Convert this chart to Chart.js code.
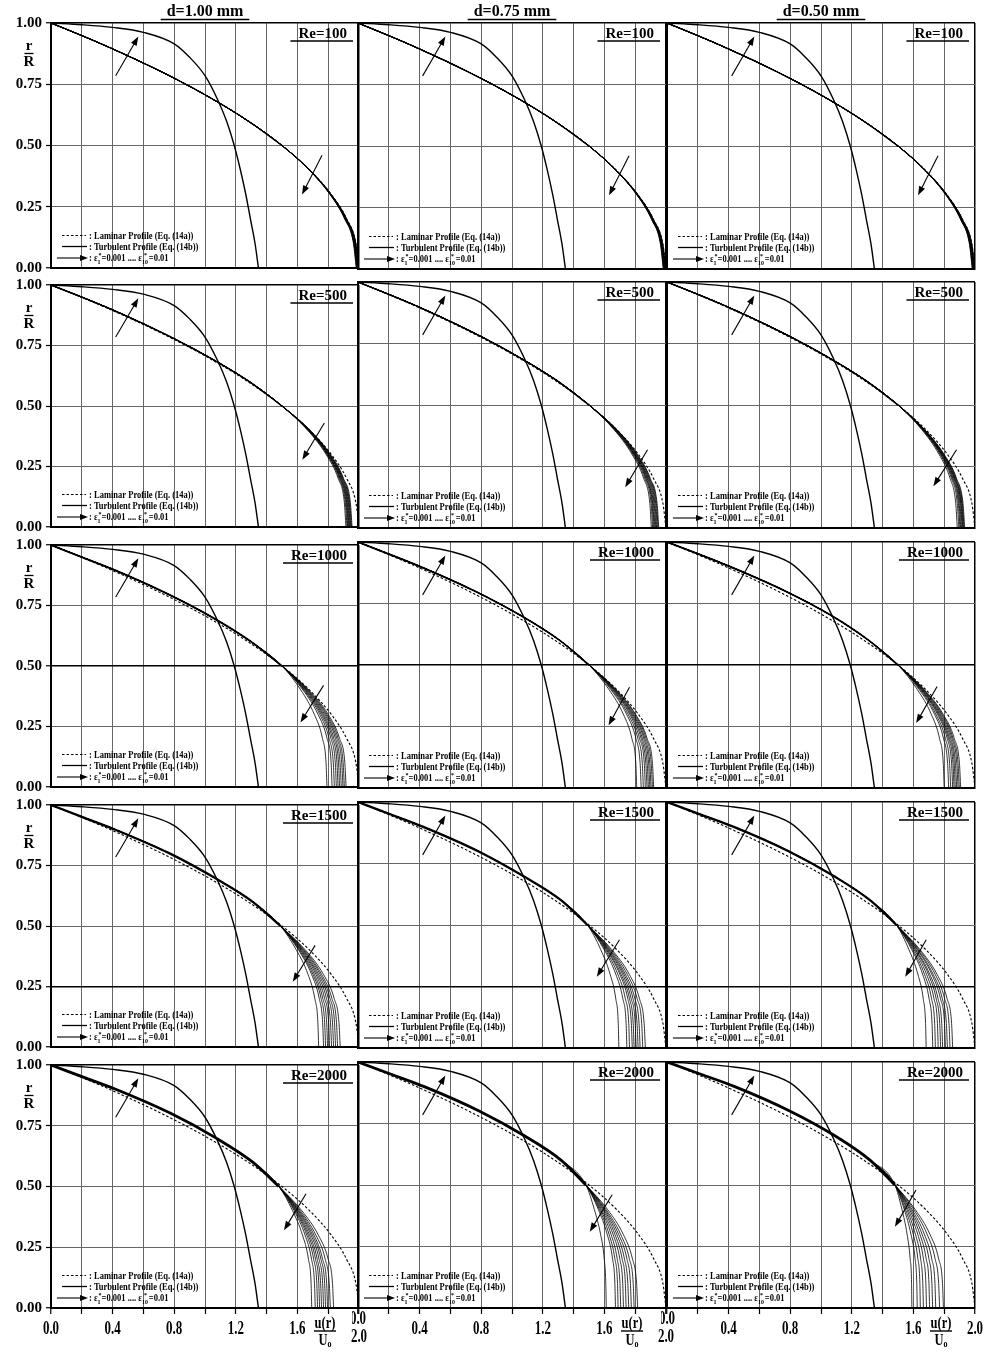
<!DOCTYPE html>
<html>
<head>
<meta charset="utf-8">
<title>Velocity profiles</title>
<script src="https://cdn.jsdelivr.net/npm/chart.js@4.4.1/dist/chart.umd.min.js"></script>
<style>
  html, body { margin: 0; padding: 0; background: #fff; }
  #wrap { position: relative; width: 994px; height: 1352px; overflow: hidden; }
  #wrap canvas { position: absolute; }
</style>
</head>
<body>
<div id="wrap"></div>
<script>
// ------------------------
// Data
// ------------------------
const diameters = ['d=1.00 mm', 'd=0.75 mm', 'd=0.50 mm'];
const reynolds = [100, 500, 1000, 1500, 2000];
const xLabelTicks = [0, 0.4, 0.8, 1.2, 1.6, 2.0];

// r/R stations used for the laminar profile and the roughness family
const rUpper = [1, 0.95, 0.9, 0.8, 0.7, 0.6, 0.5];
const rLower = [0.4, 0.3, 0.2, 0.1, 0];
const rGrid = rUpper.concat(rLower);

// laminar profile (Eq. 14a), u/Uo at rGrid
const laminarX = [0, 0.195, 0.38, 0.72, 1.02, 1.28, 1.5, 1.68, 1.82, 1.92, 1.98, 2.0];

// turbulent profile (Eq. 14b)
const turbR = [1, 0.993, 0.982, 0.962, 0.915, 0.86, 0.785, 0.69, 0.6, 0.5, 0.4, 0.3, 0.2, 0.1, 0];
const turbX = [0, 0.2, 0.4, 0.6, 0.8, 0.9, 1.0, 1.08, 1.14, 1.19, 1.23, 1.265, 1.295, 1.325, 1.347];

// upper part of the eps family (shared by the 10 curves), u/Uo at rUpper
const band100 = [0, 0.195, 0.38, 0.72, 1.02, 1.28, 1.5];
const band500 = [0, 0.2, 0.39, 0.73, 1.03, 1.29, 1.5];
const band1000a = [0, 0.2, 0.40, 0.75, 1.05, 1.30, 1.50];
const band1000b = [0, 0.205, 0.405, 0.76, 1.06, 1.31, 1.50];
const band1000c = [0, 0.21, 0.41, 0.77, 1.07, 1.31, 1.50];
const band1500a = [0, 0.205, 0.41, 0.77, 1.06, 1.31, 1.49];
const band1500b = [0, 0.21, 0.42, 0.78, 1.07, 1.32, 1.49];
const band1500c = [0, 0.215, 0.43, 0.79, 1.08, 1.32, 1.49];
const band2000a = [0, 0.21, 0.42, 0.78, 1.07, 1.31, 1.48];
const band2000b = [0, 0.215, 0.43, 0.79, 1.08, 1.32, 1.48];
const band2000c = [0, 0.22, 0.44, 0.80, 1.09, 1.32, 1.48];

// lower part of the eps1..eps10 curves, u/Uo at rLower
const fam100 = [
  [1.676, 1.812, 1.907, 1.964, 1.982], [1.677, 1.813, 1.909, 1.966, 1.984],
  [1.677, 1.814, 1.910, 1.967, 1.986], [1.678, 1.815, 1.912, 1.969, 1.988],
  [1.678, 1.816, 1.913, 1.971, 1.990], [1.678, 1.816, 1.914, 1.973, 1.992],
  [1.679, 1.817, 1.916, 1.975, 1.994], [1.679, 1.818, 1.917, 1.976, 1.996],
  [1.680, 1.819, 1.919, 1.978, 1.998], [1.680, 1.820, 1.920, 1.980, 2.000]
];
const fam500a = [
  [1.666, 1.786, 1.865, 1.905, 1.915], [1.669, 1.791, 1.871, 1.911, 1.922],
  [1.671, 1.795, 1.876, 1.916, 1.927], [1.672, 1.797, 1.879, 1.920, 1.931],
  [1.674, 1.800, 1.883, 1.924, 1.935], [1.676, 1.803, 1.886, 1.928, 1.939],
  [1.677, 1.806, 1.890, 1.932, 1.943], [1.679, 1.808, 1.893, 1.936, 1.947],
  [1.680, 1.811, 1.897, 1.940, 1.951], [1.682, 1.814, 1.900, 1.944, 1.955]
];
const fam500b = [
  [1.662, 1.779, 1.856, 1.895, 1.905], [1.665, 1.785, 1.863, 1.903, 1.913],
  [1.668, 1.789, 1.869, 1.909, 1.919], [1.670, 1.793, 1.873, 1.913, 1.924],
  [1.672, 1.796, 1.878, 1.918, 1.929], [1.674, 1.799, 1.882, 1.923, 1.934],
  [1.676, 1.803, 1.886, 1.928, 1.939], [1.678, 1.806, 1.891, 1.933, 1.944],
  [1.680, 1.810, 1.895, 1.938, 1.949], [1.681, 1.813, 1.899, 1.942, 1.953]
];
const fam500c = [
  [1.654, 1.766, 1.839, 1.875, 1.885], [1.658, 1.773, 1.848, 1.885, 1.895],
  [1.661, 1.777, 1.854, 1.892, 1.902], [1.663, 1.781, 1.858, 1.897, 1.907],
  [1.665, 1.784, 1.863, 1.902, 1.912], [1.667, 1.788, 1.867, 1.907, 1.917],
  [1.668, 1.790, 1.870, 1.910, 1.921], [1.670, 1.793, 1.874, 1.914, 1.925],
  [1.672, 1.796, 1.878, 1.918, 1.929], [1.673, 1.799, 1.881, 1.922, 1.933]
];
const fam1000a = [
  [1.623, 1.710, 1.763, 1.786, 1.792], [1.637, 1.734, 1.793, 1.819, 1.825],
  [1.643, 1.745, 1.806, 1.833, 1.840], [1.648, 1.754, 1.818, 1.846, 1.853],
  [1.653, 1.762, 1.828, 1.857, 1.864], [1.657, 1.769, 1.837, 1.867, 1.874],
  [1.662, 1.777, 1.847, 1.877, 1.885], [1.666, 1.785, 1.856, 1.888, 1.896],
  [1.670, 1.792, 1.865, 1.897, 1.905], [1.675, 1.800, 1.874, 1.908, 1.916]
];
const fam1000b = [
  [1.630, 1.723, 1.779, 1.804, 1.810], [1.642, 1.744, 1.805, 1.832, 1.839],
  [1.648, 1.754, 1.818, 1.846, 1.853], [1.654, 1.764, 1.829, 1.859, 1.866],
  [1.658, 1.771, 1.839, 1.869, 1.877], [1.662, 1.778, 1.847, 1.878, 1.886],
  [1.666, 1.784, 1.856, 1.887, 1.895], [1.669, 1.790, 1.863, 1.895, 1.903],
  [1.673, 1.797, 1.871, 1.904, 1.912], [1.676, 1.802, 1.878, 1.912, 1.920]
];
const fam1000c = [
  [1.626, 1.716, 1.770, 1.794, 1.800], [1.638, 1.737, 1.796, 1.822, 1.829],
  [1.644, 1.746, 1.808, 1.835, 1.842], [1.649, 1.756, 1.820, 1.848, 1.855],
  [1.653, 1.762, 1.828, 1.857, 1.864], [1.656, 1.768, 1.835, 1.865, 1.872],
  [1.660, 1.774, 1.843, 1.873, 1.881], [1.664, 1.781, 1.851, 1.882, 1.890],
  [1.667, 1.787, 1.858, 1.890, 1.898], [1.671, 1.793, 1.866, 1.899, 1.907]
];
const fam1500a = [
  [1.594, 1.669, 1.713, 1.733, 1.738], [1.608, 1.692, 1.742, 1.764, 1.770],
  [1.613, 1.701, 1.754, 1.777, 1.783], [1.619, 1.710, 1.765, 1.790, 1.796],
  [1.624, 1.720, 1.777, 1.803, 1.809], [1.629, 1.729, 1.789, 1.815, 1.822],
  [1.635, 1.738, 1.801, 1.828, 1.835], [1.640, 1.748, 1.812, 1.841, 1.848],
  [1.646, 1.757, 1.824, 1.854, 1.861], [1.653, 1.769, 1.839, 1.870, 1.878]
];
const fam1500b = [
  [1.576, 1.637, 1.674, 1.690, 1.694], [1.598, 1.674, 1.720, 1.741, 1.746],
  [1.605, 1.687, 1.736, 1.758, 1.763], [1.612, 1.700, 1.752, 1.775, 1.781],
  [1.617, 1.708, 1.763, 1.787, 1.793], [1.623, 1.718, 1.774, 1.800, 1.806],
  [1.628, 1.727, 1.786, 1.812, 1.819], [1.634, 1.736, 1.798, 1.825, 1.832],
  [1.641, 1.748, 1.813, 1.842, 1.849], [1.648, 1.761, 1.828, 1.858, 1.866]
];
const fam1500c = [
  [1.571, 1.629, 1.664, 1.679, 1.683], [1.589, 1.660, 1.702, 1.721, 1.726],
  [1.596, 1.672, 1.718, 1.738, 1.743], [1.604, 1.685, 1.734, 1.756, 1.761],
  [1.611, 1.697, 1.748, 1.771, 1.777], [1.616, 1.706, 1.760, 1.784, 1.790],
  [1.624, 1.719, 1.776, 1.802, 1.808], [1.629, 1.728, 1.788, 1.814, 1.821],
  [1.636, 1.741, 1.803, 1.831, 1.838], [1.643, 1.753, 1.819, 1.848, 1.855]
];
const fam2000a = [
  [1.569, 1.633, 1.672, 1.689, 1.693], [1.579, 1.650, 1.692, 1.711, 1.716],
  [1.585, 1.661, 1.706, 1.726, 1.731], [1.591, 1.670, 1.718, 1.739, 1.744],
  [1.596, 1.679, 1.729, 1.751, 1.757], [1.602, 1.689, 1.741, 1.764, 1.770],
  [1.607, 1.698, 1.753, 1.777, 1.783], [1.613, 1.708, 1.764, 1.790, 1.796],
  [1.620, 1.720, 1.781, 1.807, 1.814], [1.629, 1.736, 1.800, 1.828, 1.835]
];
const fam2000b = [
  [1.535, 1.575, 1.599, 1.609, 1.612], [1.561, 1.618, 1.653, 1.668, 1.672],
  [1.568, 1.630, 1.668, 1.685, 1.689], [1.575, 1.643, 1.683, 1.701, 1.706],
  [1.582, 1.656, 1.700, 1.719, 1.724], [1.590, 1.668, 1.715, 1.736, 1.741],
  [1.597, 1.680, 1.730, 1.752, 1.758], [1.604, 1.692, 1.746, 1.769, 1.775],
  [1.611, 1.705, 1.762, 1.787, 1.793], [1.621, 1.722, 1.782, 1.809, 1.816]
];
const fam2000c = [
  [1.526, 1.559, 1.579, 1.588, 1.590], [1.541, 1.584, 1.611, 1.622, 1.625],
  [1.549, 1.599, 1.629, 1.642, 1.645], [1.558, 1.613, 1.647, 1.661, 1.665],
  [1.566, 1.628, 1.665, 1.681, 1.685], [1.575, 1.642, 1.683, 1.701, 1.705],
  [1.583, 1.656, 1.701, 1.720, 1.725], [1.591, 1.671, 1.719, 1.740, 1.745],
  [1.602, 1.689, 1.741, 1.764, 1.770], [1.612, 1.707, 1.764, 1.789, 1.795]
];

// arrows: [tail, head] in (u/Uo, r/R)
const arrowUp = [[0.42, 0.785], [0.567, 0.945]];
const arrowDown100 = [[[1.76, 0.46], [1.63, 0.30]], [[1.76, 0.46], [1.63, 0.30]], [[1.76, 0.46], [1.63, 0.30]]];
const arrowDown500 = [[[1.775, 0.43], [1.632, 0.278]], [[1.88, 0.318], [1.735, 0.166]], [[1.88, 0.318], [1.73, 0.17]]];
const arrowDown1000 = [[[1.77, 0.42], [1.62, 0.267]], [[1.763, 0.41], [1.627, 0.255]], [[1.754, 0.413], [1.618, 0.264]]];
const arrowDown1500 = [[[1.715, 0.42], [1.57, 0.27]], [[1.698, 0.44], [1.551, 0.29]], [[1.683, 0.44], [1.547, 0.29]]];
const arrowDown2000 = [[[1.656, 0.47], [1.513, 0.32]], [[1.65, 0.46], [1.505, 0.31]], [[1.617, 0.48], [1.48, 0.33]]];

// ------------------------
// Panel lookup tables
// ------------------------
const bands = [
  [band100, band100, band100], [band500, band500, band500],
  [band1000a, band1000b, band1000c], [band1500a, band1500b, band1500c],
  [band2000a, band2000b, band2000c]
];
const families = [
  [fam100, fam100, fam100], [fam500a, fam500b, fam500c],
  [fam1000a, fam1000b, fam1000c], [fam1500a, fam1500b, fam1500c],
  [fam2000a, fam2000b, fam2000c]
];
const arrowsDown = [arrowDown100, arrowDown500, arrowDown1000, arrowDown1500, arrowDown2000];

// ------------------------
// Layout / styles
// ------------------------
const panelW = 308, panelH = 246;
const colLeft = [51, 358, 667];
const rowTop = [23, 282, 542, 802, 1062];
const bandWidth = [1.2, 1.4, 1.8, 2.3, 2.8];
const SERIF = '"Liberation Serif", "Times New Roman", serif';
const GRID = '#666';

function pts(xs, rs) {
    return xs.map((x, i) => ({ x: x, y: rs[i] }));
}

// text drawn with an optional horizontal squeeze, returns its width
function txt(ctx, s, x, y, size, sx, align) {
    ctx.font = 'bold ' + size + 'px ' + SERIF;
    const w = ctx.measureText(s).width * sx;
    let x0 = x;
    if (align === 'center') x0 = x - w / 2;
    else if (align === 'right') x0 = x - w;
    ctx.save();
    ctx.translate(x0, y);
    ctx.scale(sx, 1);
    ctx.textAlign = 'left';
    ctx.textBaseline = 'alphabetic';
    ctx.fillText(s, 0, 0);
    ctx.restore();
    return w;
}

function seg(ctx, x1, y1, x2, y2) {
    ctx.beginPath();
    ctx.moveTo(x1, y1);
    ctx.lineTo(x2, y2);
    ctx.stroke();
}

function arrow(ctx, x1, y1, x2, y2, head) {
    const a = Math.atan2(y2 - y1, x2 - x1);
    const c = Math.cos(a), s = Math.sin(a);
    seg(ctx, x1, y1, x2 - c * head * 0.6, y2 - s * head * 0.6);
    ctx.beginPath();
    ctx.moveTo(x2, y2);
    ctx.lineTo(x2 - head * c + head * 0.36 * s, y2 - head * s - head * 0.36 * c);
    ctx.lineTo(x2 - head * c - head * 0.36 * s, y2 - head * s + head * 0.36 * c);
    ctx.closePath();
    ctx.fill();
}

function drawLegend(ctx, area) {
    const L = area.left, B = area.bottom;
    ctx.strokeStyle = '#000';
    ctx.fillStyle = '#000';
    ctx.lineWidth = 1;
    ctx.setLineDash([2.5, 2]);
    seg(ctx, L + 11, B - 32.5, L + 35, B - 32.5);
    ctx.setLineDash([]);
    txt(ctx, ': Laminar Profile (Eq. (14a))', L + 38, B - 29.5, 10, 0.85);
    ctx.lineWidth = 1.3;
    seg(ctx, L + 11, B - 21.5, L + 36, B - 21.5);
    txt(ctx, ': Turbulent Profile (Eq. (14b))', L + 38, B - 18.5, 10, 0.85);
    ctx.lineWidth = 1.1;
    arrow(ctx, L + 6, B - 10, L + 37, B - 10, 8);
    let x = L + 38;
    const y = B - 7;
    x += txt(ctx, ': \u03b5', x, y, 10, 0.85);
    x += Math.max(txt(ctx, '1', x, y + 2.5, 7, 0.85), txt(ctx, '*', x + 1, y - 4, 7, 0.85));
    x += txt(ctx, '=0.001 .... \u03b5', x + 1, y, 10, 0.85) + 1;
    x += Math.max(txt(ctx, '10', x, y + 2.5, 7, 0.85), txt(ctx, '*', x + 2, y - 4, 7, 0.85));
    txt(ctx, '=0.01', x + 1, y, 10, 0.85);
}

// ------------------------
// Per-panel decorations
// ------------------------
function decorPlugin(row, col) {
    return {
        id: 'decor',
        afterDatasetsDraw(chart) {
            const ctx = chart.ctx, xs = chart.scales.x, ys = chart.scales.y;
            ctx.save();
            ctx.strokeStyle = '#000';
            ctx.fillStyle = '#000';
            ctx.lineWidth = 1.1;
            const up = arrowUp;
            arrow(ctx, xs.getPixelForValue(up[0][0]), ys.getPixelForValue(up[0][1]),
                xs.getPixelForValue(up[1][0]), ys.getPixelForValue(up[1][1]), 9);
            const dn = arrowsDown[row][col];
            arrow(ctx, xs.getPixelForValue(dn[0][0]), ys.getPixelForValue(dn[0][1]),
                xs.getPixelForValue(dn[1][0]), ys.getPixelForValue(dn[1][1]), 9);
            ctx.restore();
        },
        afterDraw(chart) {
            const ctx = chart.ctx, area = chart.chartArea, xs = chart.scales.x;
            ctx.save();
            ctx.fillStyle = '#000';
            ctx.strokeStyle = '#000';

            // Re label, underlined
            const label = 'Re=' + reynolds[row];
            const xr = area.right - 12;
            const w = txt(ctx, label, xr, area.top + 15, 15, 1, 'right');
            ctx.lineWidth = 1.5;
            seg(ctx, xr - w - 8, area.top + 18, xr + 6, area.top + 18);

            // column title
            if (row === 0) {
                const cx = (area.left + area.right) / 2;
                const tw = txt(ctx, diameters[col], cx, area.top - 7, 16, 1, 'center');
                seg(ctx, cx - tw / 2 - 6, area.top - 3.5, cx + tw / 2 + 6, area.top - 3.5);
            }

            // r/R
            if (col === 0) {
                const cx = area.left - 22;
                txt(ctx, 'r', cx, area.top + 27, 15, 1, 'center');
                ctx.lineWidth = 1.3;
                seg(ctx, cx - 4.5, area.top + 30.5, cx + 4.5, area.top + 30.5);
                txt(ctx, 'R', cx, area.top + 43, 15, 1, 'center');
            }

            // x tick labels and u(r)/Uo
            if (row === 4) {
                xLabelTicks.forEach(v => {
                    let y = area.bottom + 26;
                    if (v === 0 && col > 0) y = area.bottom + 16;
                    if (v === 2 && col < 2) y = area.bottom + 34;
                    txt(ctx, v.toFixed(1), xs.getPixelForValue(v), y, 18, 0.72, 'center');
                });
                const fx = area.left + 274;
                txt(ctx, 'u(r)', fx, area.bottom + 20, 16, 0.78, 'center');
                ctx.lineWidth = 1.4;
                seg(ctx, fx - 11, area.bottom + 23, fx + 11, area.bottom + 23);
                const uw = txt(ctx, 'U', fx - 2, area.bottom + 37, 16, 0.78, 'center');
                txt(ctx, 'o', fx - 2 + uw / 2, area.bottom + 39, 10, 0.8);
            }

            drawLegend(ctx, area);
            ctx.restore();
        }
    };
}

// ------------------------
// Build the 15 panels
// ------------------------
const wrap = document.getElementById('wrap');

reynolds.forEach((re, row) => {
    diameters.forEach((d, col) => {
        const mL = col === 0 ? 58 : 6;
        const mR = row === 4 ? 18 : 6;
        const mT = row === 0 ? 28 : 10;
        const mB = row === 4 ? 46 : 12;
        const yAxisW = col === 0 ? 48 : 0;
        const xAxisH = row === 4 ? 6 : 0;

        const canvas = document.createElement('canvas');
        canvas.width = panelW + mL + mR;
        canvas.height = panelH + mT + mB;
        canvas.style.left = (colLeft[col] - mL) + 'px';
        canvas.style.top = (rowTop[row] - mT) + 'px';
        canvas.style.width = canvas.width + 'px';
        canvas.style.height = canvas.height + 'px';
        wrap.appendChild(canvas);

        const band = bands[row][col];
        const fam = families[row][col];

        const datasets = [
            {
                data: pts(laminarX, rGrid), borderColor: '#000', borderWidth: 1.1,
                borderDash: [2.5, 2]
            },
            { data: pts(turbX, turbR), borderColor: '#000', borderWidth: 1.4 },
            { data: pts(band, rUpper), borderColor: '#000', borderWidth: bandWidth[row] }
        ];
        fam.forEach(lower => {
            datasets.push({ data: pts(band.concat(lower), rGrid), borderColor: '#000', borderWidth: 0.8 });
        });

        const yEmph = v => Math.abs(v - 1) < 1e-6 || Math.abs(v) < 1e-6 ||
            (row === 2 && Math.abs(v - 0.5) < 1e-6) || (row === 3 && Math.abs(v - 0.25) < 1e-6);
        const xEmph = v => Math.abs(v - 2) < 1e-6 || Math.abs(v) < 1e-6;

        new Chart(canvas, {
            type: 'scatter',
            data: { datasets: datasets },
            options: {
                responsive: false,
                devicePixelRatio: 1,
                animation: false,
                events: [],
                showLine: true,
                elements: {
                    point: { radius: 0 },
                    line: { cubicInterpolationMode: 'monotone' }
                },
                layout: {
                    autoPadding: false,
                    padding: { left: mL - yAxisW, right: mR, top: mT, bottom: mB - xAxisH }
                },
                plugins: { legend: { display: false }, tooltip: { enabled: false } },
                scales: {
                    x: {
                        type: 'linear', min: 0, max: 2,
                        ticks: { stepSize: 0.2, display: false },
                        grid: {
                            color: c => xEmph(c.tick.value) ? '#000' : GRID,
                            lineWidth: c => xEmph(c.tick.value) ? 1.5 : 1,
                            drawTicks: row === 4, tickLength: 6, tickColor: '#000', tickWidth: 1.2
                        },
                        border: { display: true, color: '#000', width: 2 },
                        afterFit: s => { s.height = xAxisH; }
                    },
                    y: {
                        type: 'linear', min: 0, max: 1,
                        ticks: {
                            stepSize: 0.25, display: col === 0, padding: 4, color: '#000',
                            font: { family: SERIF, size: 15, weight: 'bold' },
                            callback: v => v.toFixed(2)
                        },
                        grid: {
                            color: c => yEmph(c.tick.value) ? '#000' : GRID,
                            lineWidth: c => yEmph(c.tick.value) ? 1.5 : 1,
                            drawTicks: col === 0, tickLength: 5, tickColor: '#000', tickWidth: 1.2
                        },
                        border: { display: true, color: '#000', width: 2 },
                        afterFit: s => { s.width = yAxisW; }
                    }
                }
            },
            plugins: [decorPlugin(row, col)]
        });
    });
});
</script>
</body>
</html>
